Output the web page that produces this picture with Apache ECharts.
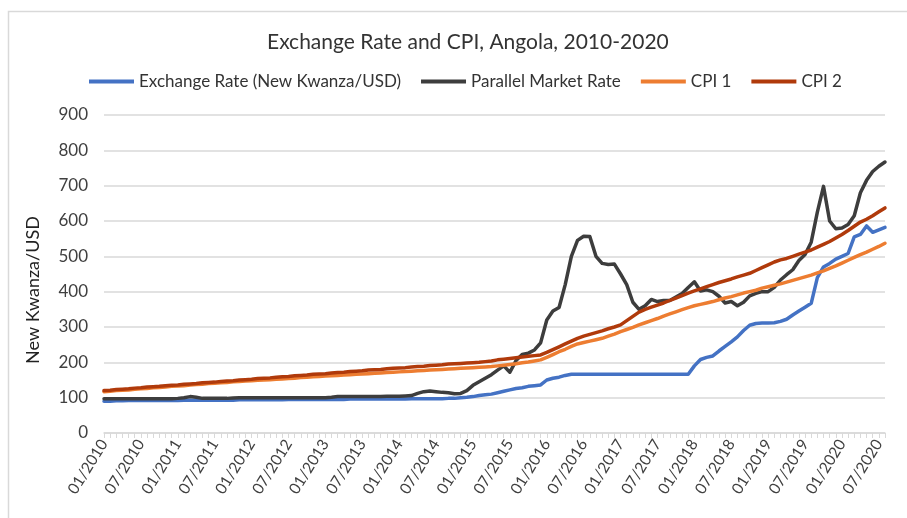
<!DOCTYPE html>
<html>
<head>
<meta charset="utf-8">
<script src="https://cdn.jsdelivr.net/npm/echarts@6/dist/echarts.min.js"></script>
<style>
  html, body { margin: 0; padding: 0; background: #fff; }
  #chart { width: 907px; height: 518px; }
</style>
</head>
<body>
<div id="chart"></div>
<script>
// monthly, 01/2010 .. 08/2020
const months = [];
for (let y = 2010; y <= 2020; y++) {
    for (let m = 1; m <= 12; m++) {
        if (y === 2020 && m > 8) break;
        months.push((m < 10 ? '0' + m : '' + m) + '/' + y);
    }
}

const exchangeRate = [
    90, 90, 91, 91, 92, 92, 92, 92, 92, 92, 92, 92,
    92, 93, 93, 93, 93, 93, 93, 93, 93, 93, 94, 94,
    94, 94, 94, 94, 94, 94, 95, 95, 95, 95, 95, 95,
    95, 95, 95, 95, 96, 96, 96, 96, 96, 96, 96, 96,
    96, 96, 97, 97, 97, 97, 97, 97, 98, 98, 100, 101,
    103, 106, 108, 110, 114, 118, 122, 126, 128, 132, 134, 136,
    150, 155, 158, 163, 166, 166, 166, 166, 166, 166, 166, 166,
    166, 166, 166, 166, 166, 166, 166, 166, 166, 166, 166, 166,
    190, 208, 214, 218, 232, 245, 258, 272, 290, 305, 310, 311,
    311, 312, 316, 322, 334, 345, 356, 367, 440, 470, 480, 492,
    500, 508, 555, 562, 586, 568, 575, 582
];

const parallelRate = [
    97, 97, 97, 97, 97, 97, 97, 97, 97, 97, 97, 97,
    98, 100, 103, 101, 98, 98, 98, 98, 98, 99, 100, 100,
    100, 100, 100, 100, 100, 100, 100, 100, 100, 100, 100, 100,
    100, 101, 103, 103, 103, 103, 103, 103, 103, 103, 104, 104,
    104, 105, 106, 112, 117, 119, 117, 115, 114, 111, 112, 120,
    135, 145, 155, 165, 178, 190, 172, 205, 222, 226, 235, 255,
    320, 345, 355, 420, 500, 545, 557, 556, 500, 480, 477, 478,
    450, 420, 370, 350, 360, 378, 372, 375, 375, 385, 395, 412,
    428, 402, 405, 400, 387, 368, 372, 360, 370, 388, 395, 400,
    400, 412, 433, 448, 462, 488, 505, 540, 625, 698, 600, 578,
    580, 590, 615, 680, 715, 740, 755, 767
];

const cpi1 = [
    117, 118, 120, 121, 122, 124, 125, 126, 128, 129, 130, 132,
    133, 134, 136, 137, 138, 140, 141, 142, 143, 145, 146, 147,
    148, 149, 150, 151, 152, 153, 154, 155, 157, 158, 159, 160,
    161, 162, 163, 164, 165, 166, 167, 168, 169, 170, 171, 172,
    173, 174, 175, 176, 177, 178, 179, 180, 181, 182, 183, 184,
    185, 186, 187, 188, 190, 192, 194, 196, 199, 201, 204, 207,
    214, 222, 230, 237, 245, 252, 256, 260, 264, 268, 274, 280,
    287, 293, 299, 306, 312, 318, 324, 331, 337, 343, 349, 355,
    360, 364, 368, 372, 377, 382, 386, 391, 396, 400, 404, 410,
    414, 418, 422, 427, 432, 437, 442, 447, 453, 459, 466, 473,
    481, 489, 497, 505, 512, 520, 528, 537
];

const cpi2 = [
    120, 121, 123, 124, 125, 127, 128, 130, 131, 132, 134, 135,
    136, 138, 139, 140, 142, 143, 144, 146, 147, 148, 150, 151,
    152, 154, 155, 156, 158, 159, 160, 162, 163, 164, 166, 167,
    168, 170, 171, 172, 174, 175, 176, 178, 179, 180, 182, 183,
    184, 185, 187, 188, 189, 191, 192, 193, 195, 196, 197, 198,
    199, 200, 202, 204, 207, 209, 211, 213, 215, 217, 219, 221,
    228, 236, 244, 252, 260, 268, 274, 279, 284, 289, 295, 300,
    306, 318, 330, 342, 350, 356, 362, 368, 375, 382, 389, 396,
    402, 408, 414, 420, 426, 431, 436, 442, 447, 452, 460, 468,
    476, 484, 490, 494, 500, 506, 512, 518, 526, 534, 542, 552,
    562, 573, 585, 597, 605, 615, 626, 637
];

const seriesNames = ['Exchange Rate (New Kwanza/USD)', 'Parallel Market Rate', 'CPI 1', 'CPI 2'];
const seriesColors = ['#4472C4', '#3D3D3D', '#ED7D31', '#B03A0B'];

const font = 'Lato, "Open Sans", sans-serif';
const chart = echarts.init(document.getElementById('chart'), null, { renderer: 'canvas' });

const option = {
    backgroundColor: '#fff',
    animation: false,
    textStyle: { fontFamily: font },
    title: {
        text: 'Exchange Rate and CPI, Angola, 2010-2020',
        left: 262,
        top: 27,
        textStyle: { fontFamily: font, fontSize: 21, fontWeight: 'normal', color: '#333' }
    },
    legend: {
        top: 68,
        left: 84,
        itemWidth: 45,
        itemHeight: 4,
        itemGap: 20,
        icon: 'rect',
        textStyle: { fontFamily: font, fontSize: 17, color: '#333' },
        data: seriesNames
    },
    graphic: [{
        type: 'rect',
        shape: { x: 8.5, y: 11.5, width: 1000, height: 600 },
        style: { fill: 'none', stroke: '#d9d9d9', lineWidth: 1.5 },
        silent: true
    }],
    grid: { left: 104, right: 22, top: 115, bottom: 85 },
    xAxis: {
        type: 'category',
        data: months,
        boundaryGap: false,
        axisLine: { lineStyle: { color: '#d9d9d9', width: 1.5 } },
        axisTick: { interval: 0, length: 5, lineStyle: { color: '#d9d9d9' } },
        axisLabel: {
            interval: 5,
            rotate: 58,
            margin: 8,
            fontFamily: font,
            fontSize: 15.5,
            color: '#404040'
        }
    },
    yAxis: {
        type: 'value',
        min: 0,
        max: 900,
        interval: 100,
        name: 'New Kwanza/USD',
        nameLocation: 'middle',
        nameRotate: 90,
        nameGap: 62,
        nameTextStyle: { fontFamily: font, fontSize: 18, color: '#222', padding: [0, 32, 0, 0] },
        axisLine: { show: false },
        axisTick: { show: false },
        axisLabel: { margin: 16, fontFamily: font, fontSize: 17, color: '#404040' },
        splitLine: { lineStyle: { color: '#d9d9d9', width: 1.5 } }
    },
    series: seriesNames.map((name, k) => ({
        name: name,
        type: 'line',
        data: [exchangeRate, parallelRate, cpi1, cpi2][k],
        showSymbol: false,
        smooth: false,
        color: seriesColors[k],
        lineStyle: { width: 3.5, color: seriesColors[k], join: 'round', cap: 'round' }
    }))
};

chart.setOption(option);
</script>
</body>
</html>
